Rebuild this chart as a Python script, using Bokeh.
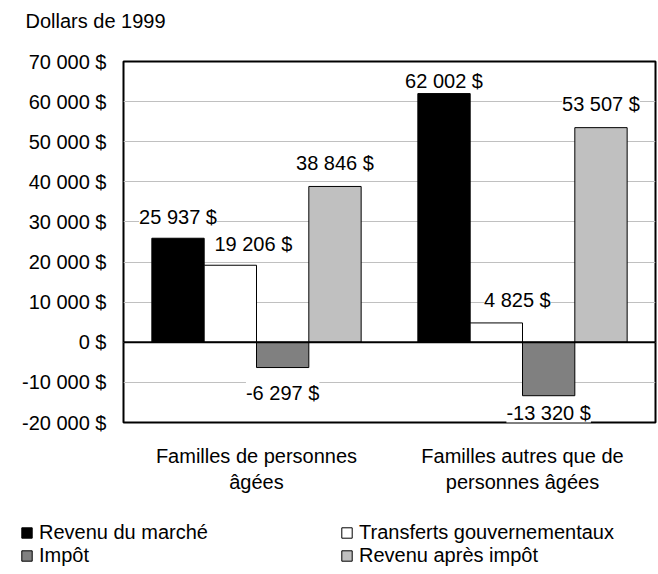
from bokeh.plotting import figure
from bokeh.layouts import column
from bokeh.models import (ColumnDataSource, FactorRange, Range1d, FixedTicker, Span,
                          LabelSet, Label, Legend, LegendItem)
from bokeh.core.properties import value
from bokeh.transform import dodge
from bokeh.embed import file_html
from bokeh.resources import INLINE

# ---- data ----
categories = ["Familles de personnes\nâgées", "Familles autres que de\npersonnes âgées"]
series_names = ["Revenu du marché", "Transferts gouvernementaux", "Impôt", "Revenu après impôt"]
revenu_marche = [25937, 62002]
transferts = [19206, 4825]
impot = [-6297, -13320]
revenu_apres_impot = [38846, 53507]
y_ticks = [-20000, -10000, 0, 10000, 20000, 30000, 40000, 50000, 60000, 70000]
unit_title = "Dollars de 1999"

# ---- styles ----
colors = ["#000000", "#ffffff", "#808080", "#c0c0c0"]
label_dx = [[0, 0], [23, 21], [0, 0], [0, 0]]          # pixel shifts of value labels
label_dy = [[21, 13], [21, 23], [-25, -17], [23, 24]]
FONT = "Liberation Sans"
FS = "20px"

def fmt(v):
    return f"{v:,}".replace(",", " ") + " $"

# ---- title strip ----
pt = figure(width=658, height=47, output_backend="svg", toolbar_location=None, title=None,
            x_range=Range1d(0, 1), y_range=Range1d(0, 1), frame_align=False,
            min_border_left=0, min_border_right=0, min_border_top=0, min_border_bottom=0)
pt.axis.visible = False
pt.grid.visible = False
pt.outline_line_color = None
pt.add_layout(Label(x=25, y=27, x_units="screen", y_units="screen", text=unit_title,
                    text_align="left", text_baseline="middle", text_font=FONT,
                    text_font_size=FS, text_color="black"))

# ---- main chart ----
p = figure(x_range=FactorRange(*categories), y_range=Range1d(-20000, 70000),
           width=658, height=463, output_backend="svg", toolbar_location=None, title=None,
           min_border_left=123, min_border_right=3, min_border_top=14, min_border_bottom=88)
p.background_fill_color = "white"
p.border_fill_color = "white"
p.outline_line_color = "black"
p.outline_line_width = 2

w = 0.1967
offsets = [-1.5 * w, -0.5 * w, 0.5 * w, 1.5 * w]
all_values = [revenu_marche, transferts, impot, revenu_apres_impot]

sources = []
for i, vals in enumerate(all_values):
    src = ColumnDataSource(dict(x=categories, top=vals, text=[fmt(v) for v in vals],
                                dx=label_dx[i], dy=label_dy[i]))
    p.vbar(x=dodge("x", offsets[i], range=p.x_range), top="top", bottom=0, width=w,
           fill_color=colors[i], line_color="black", line_width=1, source=src)
    sources.append(src)

for i, src in enumerate(sources):
    ls = LabelSet(x=dodge("x", offsets[i], range=p.x_range), y="top", text="text",
                  x_offset="dx", y_offset="dy", source=src,
                  text_align="center", text_baseline="middle",
                  text_font=value(FONT), text_font_size=value(FS), text_color="black",
                  background_fill_color="white")
    p.add_layout(ls)

p.add_layout(Span(location=0, dimension="width", line_color="black", line_width=2))

p.yaxis.ticker = FixedTicker(ticks=y_ticks)
p.yaxis.major_label_overrides = {v: fmt(v) for v in y_ticks}
for ax in (p.xaxis[0], p.yaxis[0]):
    ax.axis_line_color = None
    ax.major_tick_line_color = None
    ax.minor_tick_line_color = None
    ax.major_label_text_font = FONT
    ax.major_label_text_font_size = FS
    ax.major_label_text_color = "black"
    ax.major_label_text_font_style = "normal"
p.yaxis.major_label_standoff = 11
p.xaxis.major_label_standoff = 16

p.xgrid.visible = False
p.ygrid.grid_line_color = "#c0c0c0"
p.ygrid.grid_line_width = 1

# ---- legend strip (its bars lie outside its visible y range; only the legend shows) ----
pl = figure(width=658, height=64, output_backend="svg", toolbar_location=None, title=None,
            x_range=FactorRange(*categories), y_range=Range1d(100000, 200000), frame_align=False,
            min_border_left=0, min_border_right=0, min_border_top=0, min_border_bottom=0)
pl.axis.visible = False
pl.grid.visible = False
pl.outline_line_color = None
leg_renderers = []
for i, src in enumerate(sources):
    leg_renderers.append(pl.vbar(x=dodge("x", offsets[i], range=pl.x_range), top="top", bottom=0,
                                 width=w, fill_color=colors[i], line_color="black",
                                 line_width=1, source=src))
legend = Legend(items=[LegendItem(label=n, renderers=[r]) for n, r in zip(series_names, leg_renderers)],
                location=(20, 7), orientation="horizontal", ncols=2,
                glyph_width=13, glyph_height=13, label_standoff=6, label_width=301,
                label_height=22, spacing=0, padding=0, margin=0,
                border_line_color=None, background_fill_alpha=0,
                label_text_font=FONT, label_text_font_size=FS, label_text_color="black")
pl.add_layout(legend)

open("out.html", "w").write(file_html(column(pt, p, pl), INLINE))
